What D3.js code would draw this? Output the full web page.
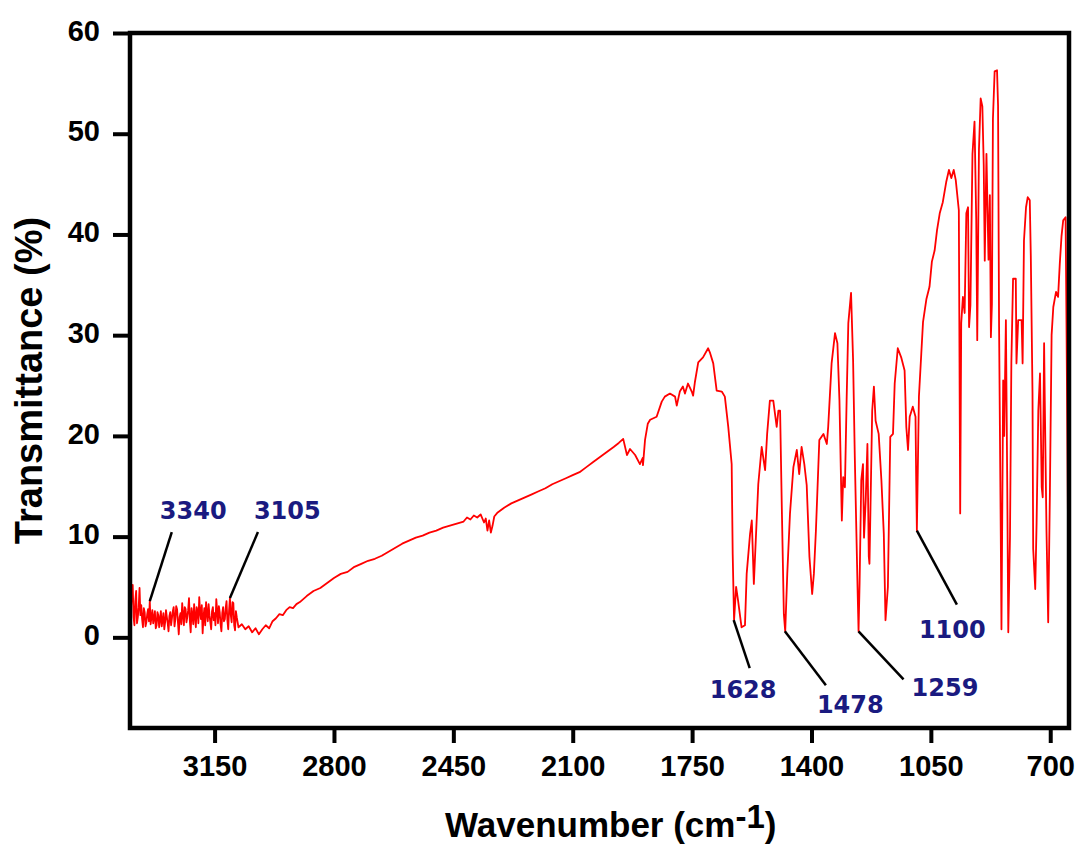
<html>
<head>
<script src="https://d3js.org/d3.v7.min.js"></script>
<style>
  body { margin: 0; background: #fff; }
  svg { font-family: "Liberation Sans", Arial, sans-serif; }
  .tick text { font-family: "Liberation Sans", Arial, sans-serif; font-size: 29px; font-weight: bold; fill: #000; }
  .tick line { stroke: #000; stroke-width: 4px; }
  .frame { fill: none; stroke: #000; stroke-width: 4.5px; }
  .spectrum { fill: none; stroke: #ff0000; stroke-width: 1.8px; stroke-linejoin: round; }
  .leader { stroke: #000; stroke-width: 2.5px; }
  .peak { font-family: "DejaVu Sans", Verdana, sans-serif; font-size: 24px; font-weight: bold; fill: #1a1a80; }
  .title { font-size: 35px; font-weight: bold; fill: #000; }
</style>
</head>
<body>
<svg id="chart" width="1083" height="859"></svg>
<script>
// FTIR spectrum (wavenumber cm-1, transmittance %)
const wavenumber = [
  3395, 3392.5, 3390, 3387.5, 3385, 3382.5, 3380, 3377.5, 3375, 3372.5, 3370, 3367.5, 3365, 3362.5, 3360, 3357.5,
  3355, 3352.5, 3350, 3347.5, 3345, 3342.5, 3340, 3337.5, 3335, 3332.5, 3330, 3327.5, 3325, 3322.5, 3320, 3317.5,
  3315, 3312.5, 3310, 3307.5, 3305, 3302.5, 3300, 3297.5, 3295, 3292.5, 3290, 3287.5, 3285, 3282.5, 3280, 3277.5,
  3275, 3272.5, 3270, 3267.5, 3265, 3262.5, 3260, 3257.5, 3255, 3252.5, 3250, 3247.5, 3245, 3242.5, 3240, 3237.5,
  3235, 3232.5, 3230, 3227.5, 3225, 3222.5, 3220, 3217.5, 3215, 3212.5, 3210, 3207.5, 3205, 3202.5, 3200, 3197.5,
  3195, 3192.5, 3190, 3187.5, 3185, 3182.5, 3180, 3177.5, 3175, 3172.5, 3170, 3167.5, 3165, 3162.5, 3160, 3157.5,
  3155, 3152.5, 3150, 3147.5, 3145, 3142.5, 3140, 3137.5, 3135, 3132.5, 3130, 3127.5, 3125, 3122.5, 3120, 3117.5,
  3115, 3112.5, 3110, 3107.5, 3105, 3102.5, 3100, 3097.5, 3095, 3092.5, 3090, 3087.5, 3085, 3080,
  3070, 3060, 3050, 3040, 3030, 3020, 3010, 3000, 2990, 2980, 2970, 2960, 2950, 2940, 2930, 2920,
  2910, 2900, 2880, 2860, 2840, 2820, 2800, 2780, 2760, 2740, 2720, 2700, 2680, 2660, 2640, 2620,
  2600, 2580, 2560, 2540, 2520, 2500, 2480, 2460, 2440, 2420, 2410, 2400, 2390, 2380, 2370, 2360,
  2355, 2350, 2345, 2340, 2335, 2330, 2320, 2300, 2280, 2260, 2240, 2220, 2200, 2180, 2160, 2140,
  2120, 2100, 2080, 2060, 2040, 2020, 2000, 1980, 1965, 1952, 1941, 1932, 1917, 1903, 1895, 1894,
  1888, 1880, 1873, 1854, 1839, 1830, 1815, 1800, 1795, 1786, 1777, 1771, 1762, 1751, 1747, 1742,
  1732, 1718, 1703, 1698, 1688, 1678, 1663, 1654, 1644, 1634, 1631, 1627, 1621, 1615, 1605, 1595,
  1590, 1580, 1575, 1569, 1563, 1556, 1546, 1536, 1530, 1522, 1512, 1502, 1497, 1492, 1487, 1481,
  1477, 1471, 1463, 1453, 1443, 1436, 1429, 1421, 1414, 1406, 1398, 1393, 1387, 1377, 1365, 1355,
  1351, 1341, 1331, 1324, 1318, 1314, 1311, 1307, 1302, 1297, 1292, 1284, 1278, 1273, 1265, 1262,
  1259, 1254, 1249, 1246, 1241, 1236, 1232, 1230, 1227, 1222, 1217, 1212, 1203, 1195, 1188, 1183,
  1176, 1169, 1161, 1156, 1147, 1137, 1127, 1122, 1117, 1112, 1103, 1095, 1093, 1091, 1085, 1078,
  1073, 1063, 1054, 1047, 1039, 1032, 1024, 1015, 1005, 997, 990, 983, 977, 968, 964, 961,
  956, 951, 946, 941, 938, 934, 928, 922, 917, 914, 909, 904, 899, 895, 892, 887,
  881, 877, 874, 871, 868, 863, 856, 853, 850, 845, 843, 838, 835, 830, 826, 823,
  818, 814, 809, 801, 799, 794, 784, 781, 777, 771, 766, 760, 757, 752, 750, 744,
  740, 735, 730, 725, 722, 718, 716, 711, 706, 701, 696, 691, 683, 677, 672, 667,
  662, 655, 652, 647
];
const transmittance = [
  3.0, 4.4, 5.2, 2.0, 1.2, 3.6, 4.6, 1.4, 2.0, 3.0, 4.9, 2.2, 3.2, 1.8, 1.0, 2.9,
  2.5, 1.1, 1.5, 2.3, 2.8, 1.6, 3.6, 1.3, 2.0, 2.7, 1.4, 1.9, 2.6, 0.9, 1.2, 2.5,
  2.2, 1.0, 1.8, 2.6, 1.1, 1.7, 2.4, 0.8, 1.5, 2.7, 2.0, 1.4, 0.6, 2.1, 2.5, 1.2,
  1.9, 2.6, 3.0, 1.1, 1.8, 3.1, 2.8, 1.5, 0.3, 2.0, 2.4, 1.3, 3.4, 2.2, 1.2, 3.0,
  2.8, 1.5, 2.0, 2.7, 3.9, 1.6, 0.5, 2.9, 2.2, 1.3, 3.3, 2.1, 1.0, 3.0, 2.6, 1.4,
  4.0, 2.5, 1.8, 3.2, 0.4, 2.0, 2.9, 1.2, 3.5, 2.4, 1.6, 3.3, 2.2, 1.5, 0.8, 2.6,
  3.0, 1.7, 2.4, 1.2, 3.8, 2.6, 1.4, 3.1, 2.5, 1.3, 0.6, 2.4, 3.0, 1.6, 1.8, 2.9,
  3.6, 1.7, 0.8, 2.7, 3.9, 2.2, 1.5, 3.5, 3.4, 1.2, 0.7, 2.6, 2.0, 1.0,
  1.3, 0.8, 1.1, 0.5, 0.9, 0.3, 0.8, 1.2, 0.9, 1.6, 1.9, 2.3, 2.2, 2.7, 3.0, 2.9,
  3.3, 3.5, 4.1, 4.6, 4.9, 5.4, 5.9, 6.3, 6.5, 7.0, 7.3, 7.6, 7.8, 8.1, 8.5, 8.9,
  9.3, 9.6, 9.9, 10.1, 10.4, 10.6, 10.9, 11.1, 11.3, 11.5, 11.9, 11.7, 12.1, 11.9, 12.2, 11.4,
  11.8, 10.6, 11.6, 10.4, 11.1, 12.0, 12.4, 12.9, 13.3, 13.6, 13.9, 14.2, 14.5, 14.8, 15.2, 15.5,
  15.8, 16.1, 16.4, 16.9, 17.4, 17.9, 18.4, 18.9, 19.3, 19.7, 18.1, 18.7, 18.1, 17.2, 17.8, 17.1,
  19.6, 21.2, 21.6, 21.9, 23.4, 23.9, 24.2, 23.9, 23.0, 24.4, 24.9, 24.2, 25.2, 24.4, 24.0, 25.3,
  27.3, 27.8, 28.7, 28.3, 27.2, 24.5, 24.4, 23.9, 20.9, 17.2, 8.3, 1.7, 5.0, 3.6, 1.0, 1.2,
  6.3, 10.3, 11.6, 5.3, 9.9, 15.2, 18.9, 16.6, 20.2, 23.5, 23.5, 20.9, 22.5, 22.5, 12.9, 2.3,
  0.6, 6.3, 12.3, 16.9, 18.6, 16.2, 18.9, 17.2, 15.1, 8.0, 4.3, 6.3, 10.6, 19.6, 20.2, 19.2,
  20.9, 27.2, 30.2, 29.2, 23.5, 16.6, 11.6, 15.9, 14.9, 23.5, 31.2, 34.2, 27.5, 17.9, 5.0, 0.6,
  5.3, 15.6, 17.2, 9.9, 13.6, 19.2, 8.0, 7.3, 12.9, 22.5, 24.9, 21.5, 20.2, 15.6, 10.3, 1.7,
  5.0, 19.9, 20.2, 25.2, 28.7, 27.8, 26.5, 20.9, 18.6, 21.9, 22.9, 21.9, 15.6, 10.6, 23.9, 28.2,
  31.3, 33.6, 34.8, 37.3, 38.4, 40.4, 42.1, 43.2, 45.2, 46.4, 45.6, 46.4, 45.4, 42.4, 12.3, 31.2,
  33.8, 32.2, 42.1, 42.7, 30.8, 33.0, 48.0, 51.2, 41.4, 29.5, 48.4, 53.5, 52.7, 46.9, 37.4, 48.0,
  37.5, 43.9, 29.8, 33.1, 51.5, 56.2, 56.3, 52.8, 30.8, 10.0, 0.8, 25.5, 20.0, 31.5, 15.0, 0.5,
  10.0, 27.3, 35.6, 35.6, 27.2, 31.5, 31.5, 27.2, 39.4, 42.7, 43.7, 43.4, 37.9, 24.2, 8.8, 4.8,
  11.4, 22.5, 26.2, 14.9, 13.9, 29.2, 23.5, 10.6, 1.5, 14.4, 30.0, 32.8, 34.3, 33.8, 37.1, 39.8,
  41.4, 41.7, 29.5, 7.0
];

const xTicks = [3150, 2800, 2450, 2100, 1750, 1400, 1050, 700];
const yTicks = [0, 10, 20, 30, 40, 50, 60];

// peak labels and where their leader lines touch the curve
const peakLabels = ["3340", "3105", "1628", "1478", "1259", "1100"];
const peakWn = [3340, 3105, 1628, 1478, 1262, 1091];
const peakT = [3.6, 3.9, 1.7, 0.6, 0.6, 10.6];

// leader line end offset and label offset (px), one per peak
const peakLayout = [
  { lx: 22, ly: -69, tx: -12, ty: -13 },
  { lx: 28, ly: -66, tx: -4, ty: -13 },
  { lx: 16, ly: 48, tx: -40, ty: 30 },
  { lx: 41, ly: 54, tx: -9, ty: 28 },
  { lx: 45, ly: 48, tx: 8, ty: 17 },
  { lx: 40, ly: 74, tx: -38, ty: 33 }
];

const svg = d3.select("#chart");
const plot = { left: 130, right: 1069, top: 33, bottom: 728 };

const x = d3.scaleLinear().domain([3398, 645]).range([plot.left, plot.right]);
const y = d3.scaleLinear().domain([-9, 60]).range([plot.bottom, plot.top]);

const points = wavenumber.map((w, i) => [w, transmittance[i]]);

const line = d3.line()
  .x(d => x(d[0]))
  .y(d => y(d[1]));

svg.append("path")
  .datum(points)
  .attr("class", "spectrum")
  .attr("d", line);

// axes
const xAxis = svg.append("g")
  .attr("transform", "translate(0," + plot.bottom + ")")
  .call(d3.axisBottom(x).tickValues(xTicks).tickFormat(d3.format("d"))
    .tickSize(15).tickSizeOuter(0).tickPadding(12));
xAxis.select(".domain").remove();

const yAxis = svg.append("g")
  .attr("transform", "translate(" + plot.left + ",0)")
  .call(d3.axisLeft(y).tickValues(yTicks).tickFormat(d3.format("d"))
    .tickSize(17).tickSizeOuter(0).tickPadding(13));
yAxis.select(".domain").remove();
yAxis.selectAll(".tick text").attr("dy", "0.25em");

svg.append("rect")
  .attr("class", "frame")
  .attr("x", plot.left)
  .attr("y", plot.top)
  .attr("width", plot.right - plot.left)
  .attr("height", plot.bottom - plot.top);

// peak annotations
const peaks = peakLabels.map((label, i) => ({
  label: label,
  px: x(peakWn[i]),
  py: y(peakT[i]),
  lay: peakLayout[i]
}));

svg.selectAll("line.leader").data(peaks)
  .join("line")
  .attr("class", "leader")
  .attr("x1", d => d.px)
  .attr("y1", d => d.py)
  .attr("x2", d => d.px + d.lay.lx)
  .attr("y2", d => d.py + d.lay.ly);

svg.selectAll("text.peak").data(peaks)
  .join("text")
  .attr("class", "peak")
  .attr("x", d => d.px + d.lay.lx + d.lay.tx)
  .attr("y", d => d.py + d.lay.ly + d.lay.ty)
  .text(d => d.label);

// axis titles
const xTitle = svg.append("text")
  .attr("class", "title")
  .attr("x", 445)
  .attr("y", 837);
xTitle.append("tspan").text("Wavenumber (cm");
xTitle.append("tspan").attr("dy", -9).style("font-size", "33px").text("-1");
xTitle.append("tspan").attr("dy", 9).text(")");

svg.append("text")
  .attr("class", "title")
  .attr("transform", "translate(42," + ((plot.top + plot.bottom) / 2) + ") rotate(-90)")
  .attr("text-anchor", "middle")
  .style("font-size", "38px")
  .text("Transmittance (%)");
</script>
</body>
</html>
